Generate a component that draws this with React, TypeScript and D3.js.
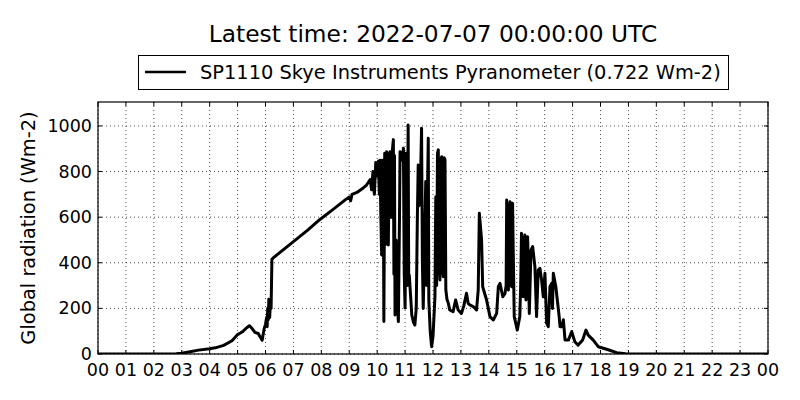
import * as d3 from 'd3';
import { useRef, useEffect } from 'react';

// hours since 00 UTC, global radiation in Wm-2
const hours = [
  0, 0.5, 1, 1.5, 2, 2.5, 2.8, 3.0, 3.3, 3.6, 4.0, 4.2, 4.5, 4.8, 5.0, 5.1, 5.2, 5.3, 5.42, 5.5,
  5.62, 5.74, 5.82, 5.88, 5.95, 6.0, 6.04, 6.06, 6.08, 6.1, 6.12, 6.15, 6.18, 6.2, 6.23, 6.3,
  7.0, 7.5, 7.95, 8.4, 8.9, 9.0, 9.05, 9.1, 9.3, 9.5, 9.62, 9.68, 9.75, 9.8, 9.85, 9.9, 9.95,
  10.0, 10.04, 10.08, 10.1, 10.13, 10.16, 10.18, 10.22, 10.24, 10.27, 10.3, 10.34, 10.37, 10.4,
  10.43, 10.46, 10.5, 10.55, 10.58, 10.6, 10.62, 10.64, 10.68, 10.72, 10.76, 10.8, 10.82, 10.86,
  10.9, 10.94, 10.97, 11.0, 11.04, 11.07, 11.11, 11.13, 11.15, 11.2, 11.24, 11.3, 11.35, 11.4,
  11.44, 11.47, 11.5, 11.55, 11.59, 11.62, 11.65, 11.7, 11.74, 11.77, 11.8, 11.83, 11.85, 11.9,
  11.95, 12.0, 12.07, 12.1, 12.13, 12.16, 12.19, 12.22, 12.25, 12.28, 12.31, 12.34, 12.37, 12.4,
  12.43, 12.46, 12.5, 12.55, 12.6, 12.72, 12.81, 12.9, 13.02, 13.1, 13.2, 13.26, 13.32, 13.44,
  13.56, 13.62, 13.66, 13.7, 13.74, 13.78, 13.92, 14.04, 14.16, 14.28, 14.34, 14.4, 14.5, 14.58,
  14.62, 14.64, 14.67, 14.7, 14.73, 14.76, 14.79, 14.82, 14.85, 14.88, 14.91, 15.02, 15.11, 15.14,
  15.17, 15.2, 15.23, 15.26, 15.29, 15.33, 15.39, 15.45, 15.51, 15.57, 15.65, 15.71, 15.77, 15.83,
  15.89, 15.95, 16.01, 16.07, 16.13, 16.19, 16.25, 16.28, 16.31, 16.4, 16.52, 16.55, 16.61, 16.67,
  16.73, 16.85, 16.97, 17.08, 17.2, 17.36, 17.48, 17.56, 17.74, 17.92, 18.22, 18.58, 18.9, 19.2,
  20, 21, 22, 23, 24,
];
const radiation = [
  0, 0, 0, 0, 0, 0, 1, 3, 10, 17, 23, 27, 38, 58, 85, 92, 100, 112, 124, 115,
  95, 90, 72, 60, 110, 130, 160, 120, 200, 150, 240, 160, 240, 200, 415, 424,
  493, 542, 590, 632, 680, 688, 672, 700, 710, 728, 741, 752, 765, 720, 800, 700, 840,
  780, 845, 700, 850, 620, 434, 850, 780, 142, 880, 480, 887, 700, 478,
  870, 887, 600, 900, 940, 350, 870, 171, 500, 230, 142, 600, 887, 880,
  850, 902, 350, 202, 880, 300, 1004, 300, 346, 250, 171, 140, 127, 200,
  600, 829, 650, 750, 990, 400, 200, 500, 756, 300, 680, 946, 237, 100,
  32, 76, 251, 690, 300, 880, 895, 400, 325, 850, 865, 380, 339, 860,
  851, 281, 240, 222, 193, 186, 237, 193, 178, 210, 266, 222, 215, 208,
  193, 281, 617, 560, 500, 295, 237, 164, 149, 178, 295, 310, 251, 266,
  300, 675, 300, 281, 640, 668, 300, 295, 661, 400, 164, 105, 164, 300,
  529, 350, 251, 500, 522, 237, 514, 178, 456, 471, 383, 164, 368, 376,
  325, 251, 354, 135, 120, 295, 310, 200, 354, 295, 164, 120, 120, 150,
  61, 61, 98, 54, 39, 61, 105, 83, 61, 32, 21, 6, 1, 0,
  0, 0, 0, 0, 0,
];

const hourTicks = [0, 1, 2, 3, 4, 5, 6, 7, 8, 9, 10, 11, 12, 13, 14, 15, 16, 17, 18, 19, 20, 21, 22, 23, 24];
const hourLabels = ['00', '01', '02', '03', '04', '05', '06', '07', '08', '09', '10', '11', '12',
  '13', '14', '15', '16', '17', '18', '19', '20', '21', '22', '23', '00'];
const radTicks = [0, 200, 400, 600, 800, 1000];

const title = 'Latest time: 2022-07-07 00:00:00 UTC';
const seriesName = 'SP1110 Skye Instruments Pyranometer (0.722 Wm-2)';
const yLabel = 'Global radiation (Wm-2)';

export default function App() {
  const svgRef = useRef<SVGSVGElement>(null);

  useEffect(() => {
    if (!svgRef.current) return;
    const svg = d3.select(svgRef.current);
    svg.selectAll('*').remove();

    const W = 800, H = 400;
    const margin = { top: 102, right: 32, bottom: 46, left: 98 };
    const width = W - margin.left - margin.right;
    const height = H - margin.top - margin.bottom;
    const font = 'DejaVu Sans, sans-serif';

    svg.append('rect').attr('width', W).attr('height', H).attr('fill', '#fff');

    const x = d3.scaleLinear().domain([0, 24]).range([0, width]);
    const y = d3.scaleLinear().domain([0, 1105]).range([height, 0]);

    const g = svg.append('g').attr('transform', `translate(${margin.left},${margin.top})`);

    g.append('clipPath').attr('id', 'plot-clip')
      .append('rect').attr('width', width).attr('height', height);

    // dotted grid
    hourTicks.forEach((h) => {
      g.append('line')
        .attr('x1', x(h)).attr('x2', x(h)).attr('y1', 0).attr('y2', height)
        .attr('stroke', '#000').attr('stroke-width', 0.7).attr('stroke-dasharray', '1,3');
    });
    radTicks.forEach((v) => {
      g.append('line')
        .attr('x1', 0).attr('x2', width).attr('y1', y(v)).attr('y2', y(v))
        .attr('stroke', '#000').attr('stroke-width', 0.7).attr('stroke-dasharray', '1,3');
    });

    // data line
    const points = hours.map((h, i) => [h, radiation[i]] as [number, number]);
    const line = d3.line<[number, number]>().x((d) => x(d[0])).y((d) => y(d[1]));
    g.append('path')
      .datum(points)
      .attr('clip-path', 'url(#plot-clip)')
      .attr('fill', 'none')
      .attr('stroke', '#000')
      .attr('stroke-width', 3)
      .attr('stroke-linejoin', 'round')
      .attr('d', line);

    // inward ticks on all four sides
    const tickLen = 4;
    hourTicks.forEach((h) => {
      g.append('line').attr('x1', x(h)).attr('x2', x(h)).attr('y1', height).attr('y2', height - tickLen)
        .attr('stroke', '#000');
      g.append('line').attr('x1', x(h)).attr('x2', x(h)).attr('y1', 0).attr('y2', tickLen)
        .attr('stroke', '#000');
    });
    radTicks.forEach((v) => {
      g.append('line').attr('x1', 0).attr('x2', tickLen).attr('y1', y(v)).attr('y2', y(v))
        .attr('stroke', '#000');
      g.append('line').attr('x1', width).attr('x2', width - tickLen).attr('y1', y(v)).attr('y2', y(v))
        .attr('stroke', '#000');
    });

    g.append('rect').attr('width', width).attr('height', height)
      .attr('fill', 'none').attr('stroke', '#000').attr('stroke-width', 1.2);

    // tick labels
    hourTicks.forEach((h, i) => {
      g.append('text').attr('x', x(h)).attr('y', height + 22)
        .attr('text-anchor', 'middle').attr('font-family', font).attr('font-size', 17.5)
        .text(hourLabels[i]);
    });
    radTicks.forEach((v) => {
      g.append('text').attr('x', -6).attr('y', y(v) + 6)
        .attr('text-anchor', 'end').attr('font-family', font).attr('font-size', 17.5)
        .text(String(v));
    });

    // y label
    svg.append('text')
      .attr('transform', `translate(35,${margin.top + height / 2}) rotate(-90)`)
      .attr('text-anchor', 'middle').attr('font-family', font).attr('font-size', 19.4)
      .text(yLabel);

    // title
    svg.append('text').attr('x', margin.left + width / 2).attr('y', 42)
      .attr('text-anchor', 'middle').attr('font-family', font).attr('font-size', 23.3)
      .text(title);

    // legend
    const lg = svg.append('g');
    lg.append('rect').attr('x', 138.5).attr('y', 55.5).attr('width', 590).attr('height', 34)
      .attr('fill', '#fff').attr('stroke', '#000').attr('stroke-width', 1);
    lg.append('line').attr('x1', 145).attr('x2', 186).attr('y1', 72).attr('y2', 72)
      .attr('stroke', '#000').attr('stroke-width', 2.6);
    lg.append('text').attr('x', 200).attr('y', 79)
      .attr('font-family', font).attr('font-size', 19.4)
      .text(seriesName);
  }, []);

  return (
    <div style={{ position: 'fixed', left: 0, top: 0, width: 800, height: 400 }}>
      <svg ref={svgRef} width={800} height={400} style={{ display: 'block' }} />
    </div>
  );
}
